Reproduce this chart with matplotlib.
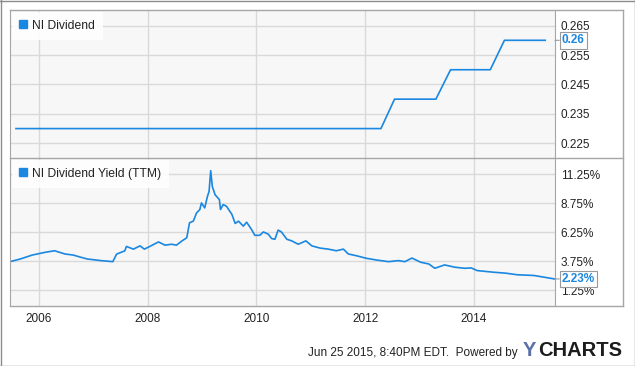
import numpy as np
import matplotlib
matplotlib.use("Agg")
import matplotlib.pyplot as plt
from matplotlib.lines import Line2D

# dividend per share (step series), decimal years
div_dates = [2005.58, 2012.29, 2012.54, 2013.30, 2013.57, 2014.30, 2014.56, 2015.31]
div_vals = [0.23, 0.23, 0.24, 0.24, 0.25, 0.25, 0.26, 0.26]

# dividend yield TTM (%)
yld_dates = [2005.47, 2005.66, 2005.88, 2006.11, 2006.29, 2006.48, 2006.63, 2006.78,
             2006.89, 2007.00, 2007.14, 2007.29, 2007.36, 2007.43, 2007.58, 2007.61,
             2007.74, 2007.86, 2007.94, 2008.04, 2008.20, 2008.32, 2008.44, 2008.53,
             2008.63, 2008.72, 2008.77, 2008.84, 2008.90, 2008.96, 2008.99, 2009.05,
             2009.10, 2009.13, 2009.16, 2009.19, 2009.24, 2009.32, 2009.34, 2009.39,
             2009.45, 2009.55, 2009.61, 2009.67, 2009.76, 2009.82, 2009.91, 2009.97,
             2010.06, 2010.13, 2010.22, 2010.28, 2010.34, 2010.40, 2010.46, 2010.56,
             2010.65, 2010.77, 2010.91, 2011.02, 2011.17, 2011.32, 2011.47, 2011.60,
             2011.69, 2011.84, 2012.02, 2012.21, 2012.43, 2012.61, 2012.73, 2012.86,
             2013.02, 2013.17, 2013.28, 2013.46, 2013.65, 2013.83, 2013.95, 2014.06,
             2014.36, 2014.58, 2014.80, 2015.10, 2015.28, 2015.48]
yld_vals = [3.72, 3.95, 4.29, 4.52, 4.66, 4.38, 4.29, 4.09,
            3.95, 3.89, 3.81, 3.75, 3.72, 4.37, 4.65, 5.03,
            4.80, 5.08, 4.80, 5.03, 5.42, 5.14, 5.22, 5.14,
            5.50, 5.78, 7.07, 7.21, 7.92, 8.21, 8.78, 8.35,
            9.34, 9.77, 11.56, 10.19, 9.49, 9.06, 8.21, 8.64,
            8.49, 7.79, 7.01, 7.21, 6.78, 7.12, 6.50, 5.99,
            5.99, 6.28, 6.08, 5.71, 5.65, 6.44, 6.28, 5.65,
            5.51, 5.22, 5.51, 5.08, 4.89, 4.80, 4.66, 4.80,
            4.38, 4.23, 4.01, 3.86, 3.72, 3.81, 3.72, 4.03,
            3.67, 3.52, 3.15, 3.44, 3.24, 3.15, 3.18, 2.95,
            2.81, 2.73, 2.59, 2.53, 2.39, 2.23]

year_ticks = [2006, 2008, 2010, 2012, 2014]
div_ticks = [0.225, 0.235, 0.245, 0.255, 0.265]
yld_ticks = [1.25, 3.75, 6.25, 8.75, 11.25]

blue = "#1a87e0"
grid_c = "#d9d9d9"
box_c = "#a6a6a6"
font = "Liberation Sans"

plt.rcParams["font.family"] = [font, "DejaVu Sans"]

W, H = 635, 366
fig = plt.figure(figsize=(W / 100, H / 100), dpi=100)


def fx(px):
    return px / W


def fy(py):
    return 1 - py / H


x0, x1 = 10, 555
ax1 = fig.add_axes([fx(x0), fy(158), fx(x1 - x0), fy(10) - fy(158)])
ax2 = fig.add_axes([fx(x0), fy(306), fx(x1 - x0), fy(158) - fy(306)])

for ax in (ax1, ax2):
    ax.set_facecolor("#f7f7f7")
    ax.set_xlim(2005.47, 2015.49)
    ax.set_xticks(year_ticks)
    ax.grid(True, color=grid_c, linewidth=1)
    ax.set_axisbelow(True)
    ax.yaxis.tick_right()
    ax.tick_params(length=0, labelsize=8.5, labelcolor="#222222", pad=4)
    for s in ("top", "bottom"):
        ax.spines[s].set_visible(False)
    ax.spines["left"].set_color(box_c)
    ax.spines["right"].set_color(box_c)

ax1.plot(div_dates, div_vals, color=blue, lw=1.2)
ax1.set_ylim(0.2200, 0.2703)
ax1.set_yticks(div_ticks)
ax1.set_yticklabels([f"{v:.3f}" for v in div_ticks])
ax1.tick_params(axis="x", labelbottom=False)

ax2.plot(yld_dates, yld_vals, color=blue, lw=1.2)
ax2.set_ylim(-0.10, 12.65)
ax2.set_yticks(yld_ticks)
ax2.set_yticklabels([f"{v:.2f}%" for v in yld_ticks])
ax2.set_xticklabels([str(y) for y in year_ticks])
ax2.tick_params(axis="x", pad=5)

# legends
for ax, name in ((ax1, "NI Dividend"), (ax2, "NI Dividend Yield (TTM)")):
    h = Line2D([], [], marker="s", linestyle="none", color=blue, markersize=5.5)
    lg = ax.legend([h], [name], loc="upper left", borderaxespad=0.15, frameon=True,
                   fontsize=8.7, handlelength=0.6, handletextpad=0.45,
                   borderpad=0.65, fancybox=False)
    lg.get_frame().set_facecolor("white")
    lg.get_frame().set_alpha(0.85)
    lg.get_frame().set_edgecolor("none")
    for t in lg.get_texts():
        t.set_color("#222222")

# last value flags
for ax, val, txt in ((ax1, div_vals[-1], "0.26"), (ax2, yld_vals[-1], "2.23%")):
    ax.annotate(txt, xy=(1, val), xycoords=("axes fraction", "data"),
                xytext=(7, 0), textcoords="offset pixels", ha="left", va="center",
                fontsize=8.5, fontweight="bold", color=blue,
                bbox=dict(boxstyle="square,pad=0.2", fc="white", ec="#999999", lw=0.8),
                arrowprops=dict(arrowstyle="-", color="#999999", lw=0.8,
                                shrinkA=0, shrinkB=0))

# box and outer border
def hline(y, xa, xb, c):
    fig.add_artist(Line2D([fx(xa), fx(xb)], [fy(y), fy(y)], color=c, lw=1))


def vline(x, ya, yb, c):
    fig.add_artist(Line2D([fx(x), fx(x)], [fy(ya), fy(yb)], color=c, lw=1))


hline(10, 10, 623, box_c)
hline(158, 10, 623, box_c)
hline(306, 10, 623, box_c)
vline(623, 10, 306, box_c)
hline(0.5, 0, 635, "#8c8c8c")
hline(365.5, 0, 635, "#8c8c8c")
vline(0.5, 0, 366, "#8c8c8c")
vline(634.5, 0, 366, "#8c8c8c")

# footer
fig.text(fx(518), fy(353), "Jun 25 2015, 8:40PM EDT.  Powered by", ha="right",
         va="center", fontsize=8.5, color="#222222")
fig.text(fx(523), fy(350), "Y", ha="left", va="center", fontsize=14.5,
         fontweight="bold", color="#5c70a8")
fig.text(fx(538), fy(350), "CHARTS", ha="left", va="center", fontsize=14.5,
         fontweight="bold", color="#1c1c1c")

fig.savefig("out.png", dpi=100)
